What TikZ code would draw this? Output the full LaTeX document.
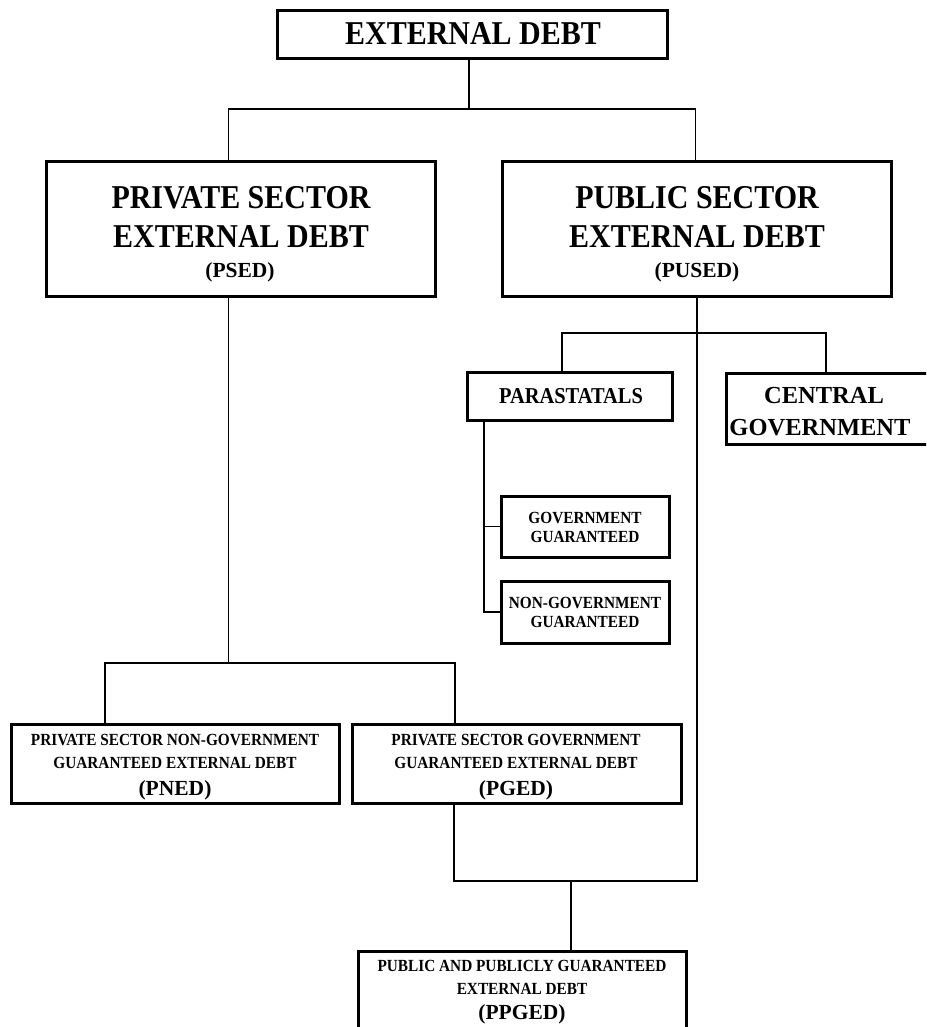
\documentclass[tikz,border=0pt]{standalone}
\usepackage{fontspec}
\newfontfamily\condserif[FakeStretch=0.9]{Liberation Serif}
\newfontfamily\plainserif{Liberation Serif}
\tikzset{
  box/.style={draw, rectangle, line width=3pt, inner sep=0pt},
  conn/.style={line width=1.2pt},
  txt/.style={inner sep=0pt, anchor=base},
  bigtxt/.style={txt, font=\condserif\bfseries\fontsize{33.3}{40}\selectfont},
  midtxt/.style={txt, font=\condserif\bfseries\fontsize{22.7}{27}\selectfont},
  centtxt/.style={txt, font=\plainserif\bfseries\fontsize{24.5}{29}\selectfont},
  smalltxt/.style={txt, font=\condserif\bfseries\fontsize{17}{20}\selectfont},
  abbrtxt/.style={txt, font=\plainserif\bfseries\fontsize{21.5}{26}\selectfont},
}
\begin{document}
\begin{tikzpicture}[x=1pt, y=-1pt]
\useasboundingbox (0,0) rectangle (926,1027);
\fill[white] (0,0) rectangle (926,1027);
\clip (0,0) rectangle (926,1027);

% boxes
\node[box, minimum width=390, minimum height=48] (top) at (472,35) {};
\node[box, minimum width=389, minimum height=134] (priv) at (240.5,229) {};
\node[box, minimum width=389, minimum height=134] (pub) at (696.5,229) {};
\node[box, minimum width=205, minimum height=48] (para) at (569.5,396.5) {};
\node[box, minimum width=210, minimum height=71] (cent) at (831,408.5) {};
\node[box, minimum width=168, minimum height=61] (gov) at (585,526.5) {};
\node[box, minimum width=168, minimum height=62] (nong) at (585,612) {};
\node[box, minimum width=328, minimum height=79] (pned) at (175,763.5) {};
\node[box, minimum width=329, minimum height=79] (pged) at (516.5,763.5) {};
\node[box, minimum width=328, minimum height=89] (ppged) at (522,996) {};

% texts
\node[bigtxt] (topT) at (473,45) {EXTERNAL DEBT};
\node[bigtxt] (privT1) at (241,208) {PRIVATE SECTOR};
\node[bigtxt] (privT2) at (241,247) {EXTERNAL DEBT};
\node[abbrtxt] (privT3) at (240,277) {(PSED)};
\node[bigtxt] (pubT1) at (697,208) {PUBLIC SECTOR};
\node[bigtxt] (pubT2) at (697,247) {EXTERNAL DEBT};
\node[abbrtxt] (pubT3) at (697,277) {(PUSED)};
\node[midtxt] (paraT) at (571,403) {PARASTATALS};
\node[centtxt] (centT1) at (824,403) {CENTRAL};
\node[centtxt] (centT2) at (820,435) {GOVERNMENT};
\node[smalltxt] (govT1) at (585,523) {GOVERNMENT};
\node[smalltxt] (govT2) at (585,542) {GUARANTEED};
\node[smalltxt] (nongT1) at (585,608) {NON-GOVERNMENT};
\node[smalltxt] (nongT2) at (585,627) {GUARANTEED};
\node[smalltxt] (pnedT1) at (175,745) {PRIVATE SECTOR NON-GOVERNMENT};
\node[smalltxt] (pnedT2) at (175,768) {GUARANTEED EXTERNAL DEBT};
\node[abbrtxt] (pnedT3) at (175,795) {(PNED)};
\node[smalltxt] (pgedT1) at (516,745) {PRIVATE SECTOR GOVERNMENT};
\node[smalltxt] (pgedT2) at (516,768) {GUARANTEED EXTERNAL DEBT};
\node[abbrtxt] (pgedT3) at (516,795) {(PGED)};
\node[smalltxt] (ppgedT1) at (522,971) {PUBLIC AND PUBLICLY GUARANTEED};
\node[smalltxt] (ppgedT2) at (522,994) {EXTERNAL DEBT};
\node[abbrtxt] (ppgedT3) at (522,1019) {(PPGED)};

% junction coordinates
\coordinate (tA) at (469,109);
\coordinate (tL) at (228.5,109);
\coordinate (tR) at (695.5,109);
\coordinate (pA) at (228.5,663);
\coordinate (pL) at (105,663);
\coordinate (pR) at (455,663);
\coordinate (uL) at (562,333);
\coordinate (uR) at (826,333);
\coordinate (gB) at (697,881);
\coordinate (gL) at (454,881);
\coordinate (gM) at (571,881);
\coordinate (sA) at (484,528);

% connectors
\draw[conn] (top.south -| tA) -- (tA);
\draw[conn] (priv.north -| tL) -- (tL) -- (tR) -- (pub.north -| tR);
\draw[conn] (priv.south -| pA) -- (pA);
\draw[conn] (pned.north -| pL) -- (pL) -- (pR) -- (pged.north -| pR);
\draw[conn] (para.north -| uL) -- (uL) -- (uR) -- (cent.north -| uR);
\draw[conn] (pub.south -| gB) -- (gB) -- (gL) -- (pged.south -| gL);
\draw[conn] (gM) -- (ppged.north -| gM);
\draw[conn] (para.south -| sA) |- (nong.west);
\draw[conn] (sA |- gov.west) -- (gov.west);
\end{tikzpicture}
\end{document}
